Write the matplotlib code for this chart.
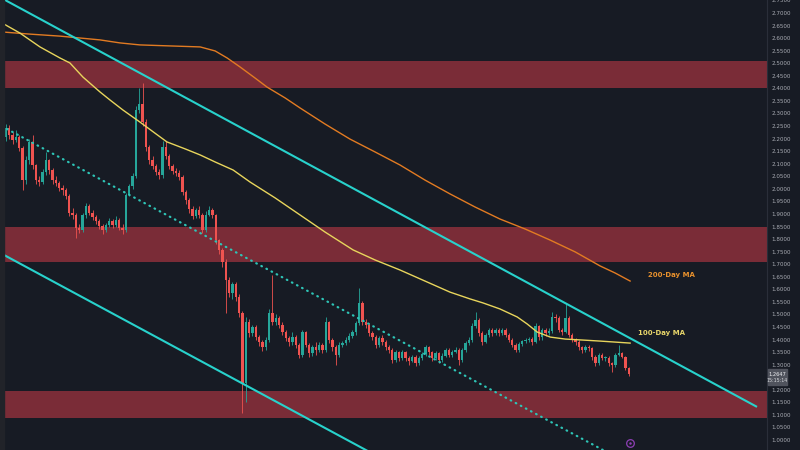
import numpy as np
import matplotlib
matplotlib.use("Agg")
import matplotlib.pyplot as plt
from matplotlib.patches import Rectangle

# ---------------- data ----------------
first_open = 2.206
closes = [
    2.242, 2.214, 2.194, 2.206, 2.163, 2.035, 2.115, 2.187, 2.095, 2.035,
    2.027, 2.067, 2.115, 2.075, 2.035, 2.023, 2.003, 1.995, 1.972, 1.904,
    1.896, 1.844, 1.836, 1.896, 1.932, 1.904, 1.888, 1.872, 1.852, 1.836,
    1.856, 1.872, 1.856, 1.876, 1.844, 1.836, 1.976, 2.011, 2.051, 2.314,
    2.338, 2.266, 2.167, 2.115, 2.091, 2.067, 2.055, 2.167, 2.131, 2.091,
    2.071, 2.063, 2.047, 1.987, 1.956, 1.920, 1.892, 1.916, 1.896, 1.836,
    1.896, 1.916, 1.896, 1.796, 1.757, 1.709, 1.637, 1.585, 1.621, 1.569,
    1.506, 1.227, 1.470, 1.426, 1.450, 1.410, 1.390, 1.370, 1.398, 1.506,
    1.470, 1.486, 1.458, 1.430, 1.406, 1.390, 1.410, 1.378, 1.339, 1.430,
    1.378, 1.346, 1.370, 1.358, 1.378, 1.358, 1.470, 1.398, 1.370, 1.339,
    1.378, 1.386, 1.398, 1.414, 1.430, 1.466, 1.546, 1.470, 1.458, 1.426,
    1.410, 1.378, 1.406, 1.390, 1.370, 1.358, 1.319, 1.350, 1.327, 1.350,
    1.327, 1.315, 1.331, 1.307, 1.327, 1.343, 1.370, 1.350, 1.327, 1.346,
    1.319, 1.335, 1.358, 1.339, 1.350, 1.358, 1.319, 1.358, 1.386, 1.398,
    1.454, 1.478, 1.426, 1.390, 1.418, 1.438, 1.426, 1.438, 1.426, 1.438,
    1.418, 1.398, 1.378, 1.358, 1.382, 1.394, 1.398, 1.402, 1.390, 1.454,
    1.410, 1.438, 1.426, 1.434, 1.490, 1.486, 1.438, 1.430, 1.486, 1.418,
    1.398, 1.390, 1.370, 1.358, 1.370, 1.366, 1.331, 1.307, 1.339, 1.327,
    1.327, 1.307, 1.299, 1.339, 1.346, 1.331, 1.287, 1.2647]
highs = [
    2.260, 2.255, 2.225, 2.235, 2.215, 2.170, 2.130, 2.200, 2.215, 2.100,
    2.050, 2.080, 2.145, 2.120, 2.085, 2.050, 2.030, 2.015, 2.005, 1.980,
    1.925, 1.905, 1.860, 1.905, 1.945, 1.940, 1.915, 1.895, 1.880, 1.860,
    1.865, 1.885, 1.880, 1.890, 1.885, 1.860, 1.985, 2.020, 2.065, 2.330,
    2.400, 2.420, 2.280, 2.175, 2.130, 2.100, 2.080, 2.190, 2.190, 2.140,
    2.100, 2.085, 2.075, 2.055, 1.995, 1.965, 1.930, 1.925, 1.930, 1.905,
    1.910, 1.930, 1.925, 1.900, 1.800, 1.765, 1.720, 1.650, 1.630, 1.630,
    1.580, 1.515, 1.490, 1.480, 1.460, 1.460, 1.420, 1.400, 1.410, 1.520,
    1.657, 1.500, 1.495, 1.470, 1.440, 1.415, 1.430, 1.420, 1.385, 1.440,
    1.435, 1.385, 1.380, 1.390, 1.390, 1.385, 1.490, 1.475, 1.405, 1.380,
    1.390, 1.395, 1.410, 1.425, 1.440, 1.475, 1.605, 1.555, 1.480, 1.465,
    1.435, 1.420, 1.415, 1.420, 1.400, 1.380, 1.365, 1.360, 1.355, 1.360,
    1.355, 1.335, 1.340, 1.340, 1.335, 1.350, 1.380, 1.375, 1.355, 1.355,
    1.350, 1.345, 1.365, 1.365, 1.360, 1.370, 1.365, 1.365, 1.395, 1.410,
    1.465, 1.510, 1.485, 1.435, 1.425, 1.445, 1.445, 1.445, 1.445, 1.445,
    1.445, 1.425, 1.405, 1.385, 1.390, 1.400, 1.405, 1.410, 1.410, 1.465,
    1.460, 1.445, 1.445, 1.445, 1.510, 1.500, 1.495, 1.445, 1.545, 1.495,
    1.425, 1.405, 1.400, 1.375, 1.380, 1.380, 1.370, 1.340, 1.345, 1.345,
    1.335, 1.335, 1.310, 1.345, 1.378, 1.350, 1.335, 1.290]
lows = [
    2.190, 2.200, 2.180, 2.185, 2.150, 1.995, 2.020, 2.100, 2.080, 2.020,
    2.010, 2.020, 2.055, 2.060, 2.020, 2.010, 1.990, 1.975, 1.960, 1.890,
    1.880, 1.804, 1.825, 1.830, 1.885, 1.895, 1.875, 1.860, 1.840, 1.820,
    1.830, 1.850, 1.845, 1.850, 1.835, 1.820, 1.830, 1.970, 2.000, 2.045,
    2.300, 2.250, 2.150, 2.100, 2.080, 2.055, 2.040, 2.045, 2.120, 2.080,
    2.060, 2.050, 2.035, 1.975, 1.940, 1.905, 1.880, 1.885, 1.885, 1.825,
    1.830, 1.890, 1.885, 1.780, 1.740, 1.690, 1.506, 1.570, 1.560, 1.555,
    1.490, 1.108, 1.150, 1.410, 1.415, 1.400, 1.375, 1.355, 1.360, 1.390,
    1.460, 1.460, 1.445, 1.420, 1.395, 1.375, 1.380, 1.365, 1.325, 1.330,
    1.370, 1.330, 1.335, 1.340, 1.350, 1.345, 1.350, 1.385, 1.355, 1.300,
    1.330, 1.370, 1.380, 1.390, 1.405, 1.420, 1.460, 1.460, 1.445, 1.415,
    1.400, 1.365, 1.370, 1.380, 1.360, 1.345, 1.305, 1.310, 1.315, 1.320,
    1.315, 1.300, 1.310, 1.295, 1.300, 1.320, 1.335, 1.340, 1.315, 1.320,
    1.305, 1.310, 1.330, 1.330, 1.330, 1.345, 1.300, 1.310, 1.350, 1.380,
    1.390, 1.445, 1.415, 1.380, 1.385, 1.410, 1.415, 1.420, 1.415, 1.420,
    1.410, 1.390, 1.370, 1.350, 1.350, 1.375, 1.385, 1.390, 1.380, 1.385,
    1.400, 1.400, 1.415, 1.420, 1.425, 1.470, 1.430, 1.420, 1.425, 1.410,
    1.390, 1.380, 1.360, 1.345, 1.350, 1.355, 1.320, 1.295, 1.300, 1.320,
    1.315, 1.295, 1.270, 1.290, 1.335, 1.325, 1.280, 1.255]

ma100_idx = [-0.6, 4.2, 10.2, 16.2, 19.2, 23.1, 28.2, 31.2, 35.1, 40.2, 44.7, 48.3,
             53.8, 58.3, 62.8, 68.2, 73.3, 80.8, 88.3, 95.8, 104.2, 110.8, 118.3,
             125.8, 133.3, 139.3, 143.2, 148.3, 153.5, 156.5, 159.5, 163.4, 167.9,
             173.3, 178.4, 187.4]
ma100_val = [2.656, 2.620, 2.565, 2.521, 2.501, 2.445, 2.386, 2.354, 2.314, 2.266, 2.222, 2.187,
             2.159, 2.135, 2.107, 2.075, 2.027, 1.964, 1.896, 1.828, 1.757, 1.717, 1.677,
             1.633, 1.589, 1.562, 1.546, 1.522, 1.490, 1.462, 1.430, 1.410, 1.402,
             1.398, 1.394, 1.386]
ma200_idx = [-0.6, 7.2, 16.2, 28.2, 34.2, 40.2, 49.2, 58.3, 62.8, 66.4, 70.3, 74.8,
             78.4, 83.8, 88.3, 95.8, 103.3, 110.8, 118.3, 125.8, 133.3, 140.8, 148.3,
             155.9, 163.4, 170.9, 178.4, 182.9, 187.4]
ma200_val = [2.624, 2.616, 2.608, 2.593, 2.581, 2.573, 2.569, 2.565, 2.549, 2.521, 2.485, 2.441,
             2.405, 2.362, 2.322, 2.258, 2.198, 2.147, 2.095, 2.035, 1.980, 1.928, 1.880,
             1.840, 1.796, 1.749, 1.693, 1.665, 1.633]

zones_low = [2.401, 1.709, 1.088]
zones_high = [2.509, 1.848, 1.195]

upper_chan_x = [-2.0, 225.5]
upper_chan_y = [2.764, 1.132]
lower_chan_x = [-1.0, 120.0]
lower_chan_y = [1.7396, 0.875]
mid_chan_x = [0.3, 180.0]
mid_chan_y = [2.2383, 0.955]

price_ticks = [1.00, 1.05, 1.10, 1.15, 1.20, 1.30, 1.35, 1.40, 1.45, 1.50, 1.55,
               1.60, 1.65, 1.70, 1.75, 1.80, 1.85, 1.90, 1.95, 2.00, 2.05, 2.10,
               2.15, 2.20, 2.25, 2.30, 2.35, 2.40, 2.45, 2.50, 2.55, 2.60, 2.65,
               2.70, 2.75]
last_price = 1.2647
last_time = "15:15:14"

label_200 = ("200-Day MA", 192.8, 1.657)
label_100 = ("100-Day MA", 189.8, 1.426)
icon_pos = (187.4, 0.988)

# ---------------- styling ----------------
BG = "#171b24"
UP = "#26a69a"
DN = "#ef5350"
ZONE = "#7a2c37"
CYAN = "#28d2cc"
YEL = "#e8d55c"
ORG = "#e27b22"

fig = plt.figure(figsize=(8, 4.5), dpi=100, facecolor=BG)
fig.patches.append(Rectangle((0, 0), 4 / 800, 1, transform=fig.transFigure,
                             color="#212329", zorder=0))
ax = fig.add_axes([4 / 800, 0, 763 / 800, 1])
ax.set_facecolor(BG)
ax.set_xlim(-0.6, 228.5)
ax.set_ylim(0.9604, 2.7518)

for lo, hi in zip(zones_low, zones_high):
    ax.axhspan(lo, hi, color=ZONE, lw=0, zorder=0.5)

# candles
opens = [first_open] + closes[:-1]
x = np.arange(len(closes))
o = np.array(opens)
c = np.array(closes)
cols = [UP if cc >= oo else DN for oo, cc in zip(o, c)]
ax.vlines(x, lows, highs, colors=cols, lw=0.6, zorder=2)
bottoms = np.minimum(o, c)
heights = np.maximum(np.abs(c - o), 0.002)
ax.bar(x, heights, bottom=bottoms, width=0.7, color=cols, lw=0, zorder=2.1)

# moving averages
ax.plot(ma200_idx, ma200_val, color=ORG, lw=1.0, zorder=3, solid_joinstyle="round")
ax.plot(ma100_idx, ma100_val, color=YEL, lw=1.0, zorder=3, solid_joinstyle="round")

# channel
ax.plot(upper_chan_x, upper_chan_y, color=CYAN, lw=1.5, zorder=4, solid_capstyle="butt")
ax.plot(lower_chan_x, lower_chan_y, color=CYAN, lw=1.5, zorder=4)
ax.plot(mid_chan_x, mid_chan_y, color="#2ec4b6", lw=1.6, zorder=4,
        linestyle=(0, (0.3, 2.3)), dash_capstyle="round")

ax.text(label_200[1], label_200[2], label_200[0], color="#e8912d", fontsize=5,
        fontweight="bold", va="center", ha="left", zorder=5)
ax.text(label_100[1], label_100[2], label_100[0], color="#e8d66a", fontsize=5,
        fontweight="bold", va="center", ha="left", zorder=5)

ax.plot([icon_pos[0]], [icon_pos[1]], marker="o", ms=5.5, mfc="none", mec="#8e3fb5",
        mew=0.9, zorder=5)
ax.plot([icon_pos[0]], [icon_pos[1]], marker="o", ms=1.8, mfc="#8e3fb5", mec="none", zorder=5)

# axes
ax.set_xticks([])
ax.yaxis.tick_right()
ax.set_yticks(price_ticks)
ax.set_yticklabels([f"{v:.4f}" for v in price_ticks])
ax.tick_params(axis="y", length=0, pad=3.2, labelsize=4.1, labelcolor="#a8abb3")
for s in ["top", "left", "bottom"]:
    ax.spines[s].set_visible(False)
ax.spines["right"].set_color("#2a2e39")
ax.spines["right"].set_linewidth(0.8)

# last price box
y0 = (450 - 385) / 450
box = Rectangle((768 / 800, y0), 19 / 800, 16 / 450, transform=fig.transFigure,
                color="#50535d", zorder=4)
fig.add_artist(box)
fig.text(777.5 / 800, (450 - 374) / 450, f"{last_price:.4f}", color="#eeeff2",
         fontsize=3.7, ha="center", va="center", zorder=6)
fig.text(777.5 / 800, (450 - 381) / 450, last_time, color="#d6d8dc",
         fontsize=3.4, ha="center", va="center", zorder=6)

fig.savefig("out.png", dpi=100, facecolor=BG)
